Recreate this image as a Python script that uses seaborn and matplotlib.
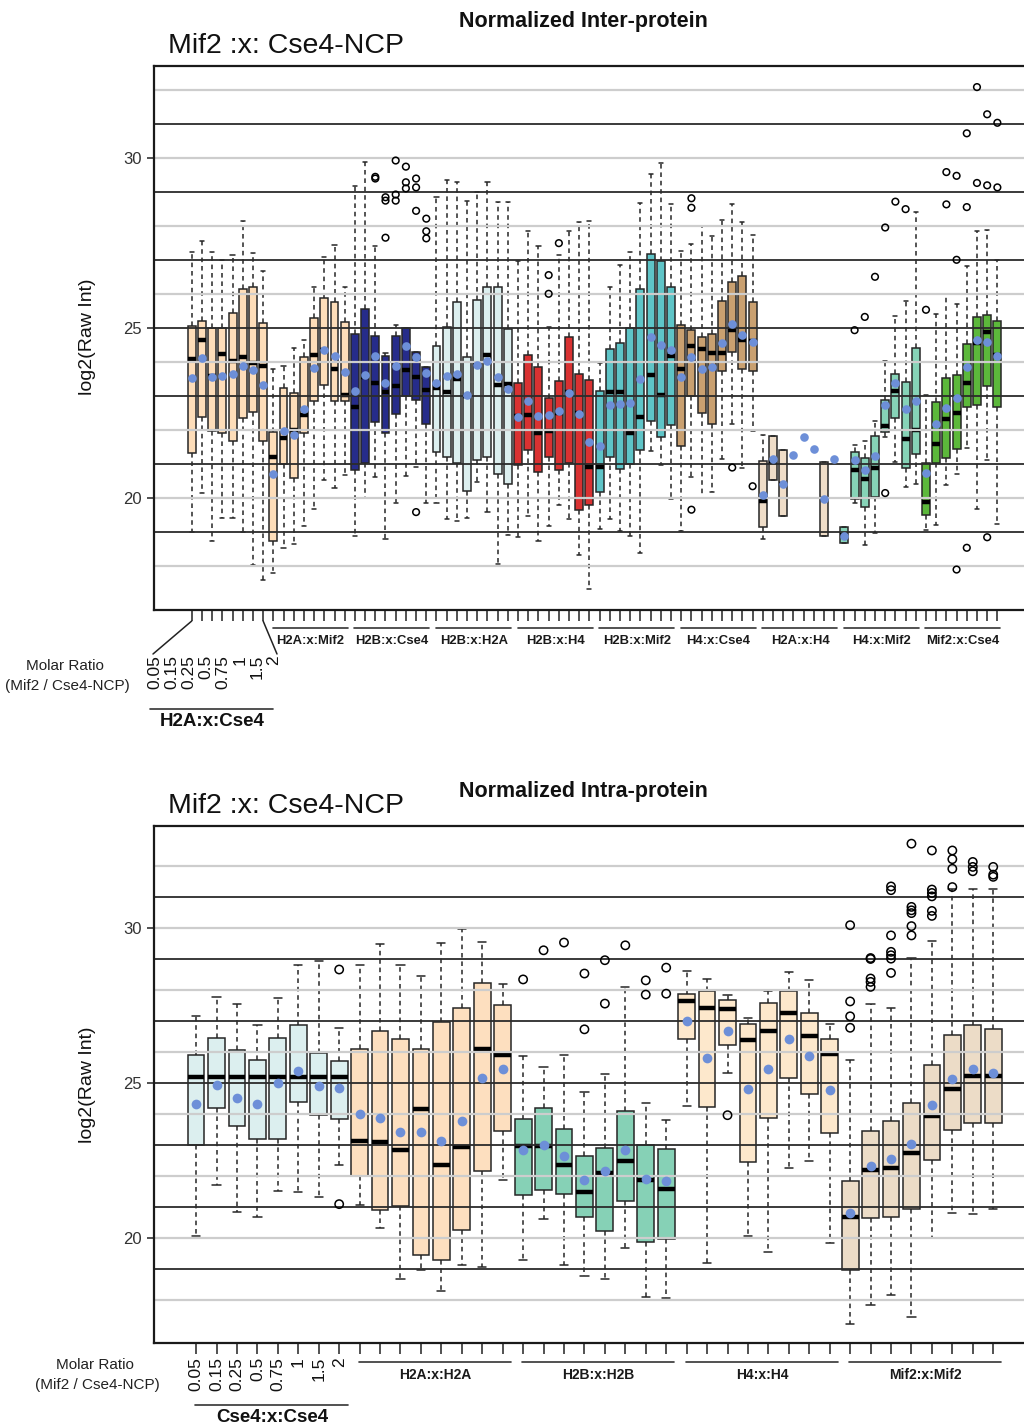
import numpy as np
import pandas as pd
import matplotlib
matplotlib.use("Agg")
import matplotlib.pyplot as plt
from matplotlib import font_manager
from matplotlib.lines import Line2D
from matplotlib.transforms import blended_transform_factory
import seaborn as sns

# ---------------------------------------------------------------- data
ratios = ["0.05", "0.15", "0.25", "0.5", "0.75", "1", "1.5", "2"]

inter_groups = ["H2A:x:Cse4", "H2A:x:Mif2", "H2B:x:Cse4", "H2B:x:H2A", "H2B:x:H4",
                "H2B:x:Mif2", "H4:x:Cse4", "H2A:x:H4", "H4:x:Mif2", "Mif2:x:Cse4"]
NA = np.nan
inter_whislo = [19.0, 20.14, 18.74, 19.4, 19.4, 19.0, 18.03, 17.58,
                17.79, 18.53, 18.63, 19.16, 19.68, 20.53, 20.29, 20.68,
                18.87, 20.0, 20.6, 18.79, 19.84, 20.63, 20.92, 19.86,
                19.84, 19.39, 19.32, 19.42, 20.47, 19.58, 18.05, 18.9,
                18.84, 19.47, 18.74, 19.16, 19.79, 19.37, 18.32, 17.32,
                19.07, 19.37, 19.02, 18.87, 18.37, 21.37, 20.95, 19.97,
                19.02, 20.6, 20.0, 20.16, 21.13, 22.18, 20.89, 21.95,
                18.79, 20.51, 19.47, NA, NA, NA, 18.89, NA,
                18.68, 19.84, 18.6, 18.95, 21.79, 21.05, 20.32, 20.4,
                19.05, 19.21, 20.37, 20.71, 21.47, 19.66, 21.1, 19.24]
inter_q1 = [21.32, 22.37, 21.95, 21.92, 21.67, 22.34, 22.53, 21.67,
            18.74, 21.0, 20.58, 21.9, 22.84, 23.32, 22.84, 22.84,
            20.81, 21.02, 22.24, 21.9, 22.47, 23.0, 22.89, 22.16,
            21.34, 21.21, 21.02, 20.21, 21.11, 21.21, 20.71, 20.42,
            20.95, 21.42, 20.77, 21.19, 20.82, 21.02, 19.65, 19.79,
            20.16, 21.21, 20.86, 21.0, 21.4, 22.26, 21.79, 22.13,
            21.53, 23.0, 22.49, 22.16, 23.74, 24.29, 23.79, 23.72,
            19.13, 20.51, 19.47, NA, NA, NA, 18.89, NA,
            18.68, 19.97, 19.74, 20.03, 21.93, 22.35, 20.89, 21.29,
            19.49, 21.03, 21.16, 21.44, 22.68, 22.72, 23.28, 22.68]
inter_median = [24.07, 24.63, 23.58, 24.24, 24.02, 24.14, 23.95, 23.89,
                21.19, 21.77, 22.0, 22.44, 24.21, 24.35, 23.79, 23.02,
                22.68, 23.55, 23.37, 23.11, 23.29, 23.77, 23.55, 23.16,
                23.23, 23.11, 23.49, 23.0, 23.9, 24.21, 23.32, 23.34,
                22.4, 22.44, 21.9, 21.95, 22.5, 23.1, 22.5, 20.92,
                20.92, 23.11, 23.11, 21.92, 22.37, 23.6, 23.02, 24.16,
                23.79, 24.47, 24.37, 24.26, 24.26, 24.93, 24.63, 24.6,
                19.92, 21.05, 20.4, NA, NA, NA, 19.95, NA,
                18.9, 20.82, 20.56, 20.89, 22.11, 23.13, 21.72, 21.98,
                19.89, 21.58, 22.32, 22.49, 23.37, 24.55, 24.89, 24.2]
inter_q3 = [25.05, 25.21, 25.0, 24.98, 25.44, 26.13, 26.21, 25.14,
            21.94, 23.23, 23.07, 24.14, 25.29, 25.89, 25.76, 25.18,
            24.81, 25.56, 24.76, 24.16, 24.76, 24.98, 24.28, 23.84,
            24.45, 25.02, 25.76, 24.14, 25.81, 26.21, 26.19, 24.95,
            23.39, 24.21, 23.84, 22.93, 23.44, 24.74, 23.65, 23.46,
            23.13, 24.39, 24.56, 25.0, 26.13, 27.16, 26.95, 26.21,
            25.07, 24.93, 24.74, 24.82, 25.79, 26.35, 26.53, 25.77,
            21.07, 21.81, 21.4, NA, NA, NA, 21.05, NA,
            19.14, 21.35, 21.18, 21.82, 22.89, 23.63, 23.42, 24.42,
            21.03, 22.82, 23.53, 23.6, 24.51, 25.32, 25.37, 25.21]
inter_whishi = [27.24, 27.56, 27.24, 26.98, 27.14, 28.14, 27.21, 26.68,
                23.78, 23.89, 24.42, 24.63, 26.21, 27.08, 27.45, 26.21,
                29.16, 29.87, 27.42, 24.26, 25.08, 24.98, 24.28, 23.84,
                28.84, 29.34, 29.28, 28.74, 29.0, 29.29, 28.71, 28.71,
                26.95, 27.86, 27.42, 25.03, 27.14, 27.84, 28.11, 28.14,
                23.97, 26.19, 26.86, 27.24, 28.66, 29.51, 29.84, 28.63,
                27.26, 27.47, 28.0, 27.71, 28.16, 28.63, 28.11, 27.74,
                21.84, 21.81, 21.4, NA, NA, NA, 21.05, NA,
                19.14, 21.56, 21.66, 22.26, 24.02, 25.34, 25.79, 28.42,
                23.02, 25.4, 25.98, 25.71, 26.82, 27.84, 27.87, 27.0]
inter_mean = [23.53, 24.10, 23.56, 23.58, 23.65, 23.87, 23.76, 23.32,
              20.71, 21.95, 21.84, 22.61, 23.82, 24.34, 24.18, 23.71,
              23.13, 23.61, 24.18, 23.37, 23.87, 24.47, 24.13, 23.66,
              23.37, 23.58, 23.65, 23.03, 23.92, 24.02, 23.55, 23.21,
              22.37, 22.84, 22.42, 22.44, 22.55, 23.08, 22.47, 21.63,
              21.51, 22.74, 22.76, 22.79, 23.49, 24.74, 24.49, 24.34,
              23.56, 24.13, 23.79, 23.86, 24.55, 25.11, 24.79, 24.58,
              20.07, 21.13, 20.40, 21.26, 21.79, 21.44, 19.95, 21.14,
              18.89, 21.11, 20.81, 21.24, 22.72, 23.39, 22.61, 22.86,
              20.72, 22.18, 22.65, 22.93, 23.86, 24.63, 24.58, 24.18]
inter_outlier_box = [18, 18, 19, 19, 19, 20, 20, 20, 21, 21, 21, 22, 22, 22, 22,
                     23, 23, 23, 35, 35, 36, 49, 49, 49, 53, 55, 65, 66, 67, 68, 68,
                     69, 70, 72, 74, 74, 75, 75, 75, 76, 76, 76, 77, 77, 78, 78, 78,
                     79, 79]
inter_outlier_val = [29.39, 29.44, 28.84, 28.74, 27.65, 29.92, 28.92, 28.74, 29.74,
                     29.28, 29.1, 29.39, 29.13, 28.44, 19.58, 28.21, 27.84, 27.63,
                     26.55, 26.0, 27.49, 28.81, 28.53, 19.65, 20.89, 20.34, 24.93,
                     25.32, 26.5, 27.95, 20.14, 28.71, 28.49, 25.53, 29.58, 28.63,
                     29.47, 27.0, 17.89, 30.72, 28.55, 18.53, 32.08, 29.26, 31.28,
                     29.19, 18.84, 31.03, 29.13]

intra_groups = ["Cse4:x:Cse4", "H2A:x:H2A", "H2B:x:H2B", "H4:x:H4", "Mif2:x:Mif2"]
intra_whislo = [20.06, 21.7, 20.84, 20.66, 21.52, 21.48, 21.32, 22.34,
                21.05, 20.33, 18.69, 18.98, 18.29, 19.14, 19.06, 21.86,
                19.3, 20.6, 19.12, 18.76, 18.67, 19.69, 18.1, 18.06,
                24.25, 19.2, 25.33, 20.05, 19.53, 22.24, 22.47, 19.85,
                17.22, 17.83, 18.15, 17.45, 20.01, 20.82, 20.78, 20.92]
intra_q1 = [23.01, 24.2, 23.6, 23.2, 23.18, 24.39, 23.96, 23.85,
            21.99, 20.89, 21.02, 19.44, 19.28, 20.25, 22.16, 23.45,
            21.4, 21.56, 21.41, 20.68, 20.22, 21.18, 19.87, 19.98,
            26.43, 24.23, 26.22, 22.45, 23.88, 25.17, 24.65, 23.4,
            18.96, 20.65, 20.68, 20.92, 22.53, 23.47, 23.72, 23.72]
intra_median = [25.19, 25.19, 25.19, 25.19, 25.19, 25.19, 25.19, 25.19,
                23.12, 23.08, 22.83, 24.17, 22.34, 22.94, 26.09, 25.91,
                22.97, 22.97, 22.34, 21.48, 22.1, 22.48, 21.86, 21.59,
                27.63, 27.42, 27.38, 26.38, 26.68, 27.27, 26.52, 25.92,
                20.66, 22.2, 22.27, 22.75, 23.92, 24.82, 25.23, 25.23]
intra_q3 = [25.89, 26.45, 26.05, 25.73, 26.45, 26.86, 25.97, 25.7,
            26.11, 26.67, 26.43, 26.11, 26.97, 27.43, 28.23, 27.53,
            23.85, 24.2, 23.53, 22.63, 22.9, 24.09, 23.01, 22.88,
            27.88, 27.96, 27.67, 26.89, 27.59, 27.97, 27.27, 26.43,
            21.84, 23.45, 23.77, 24.35, 25.57, 26.56, 26.86, 26.73]
intra_whishi = [27.16, 27.77, 27.54, 26.86, 27.75, 28.82, 28.94, 26.77,
                28.8, 29.47, 28.8, 28.45, 29.53, 29.98, 29.55, 28.2,
                25.87, 25.52, 25.89, 24.71, 25.3, 28.08, 24.35, 23.8,
                28.6, 28.34, 27.83, 27.1, 27.97, 28.58, 28.33, 26.89,
                25.75, 27.56, 27.42, 29.04, 29.58, 31.27, 31.27, 31.25]
intra_mean = [24.33, 24.92, 24.53, 24.33, 25.01, 25.39, 24.90, 24.84,
              24.01, 23.88, 23.42, 23.42, 23.12, 23.76, 25.17, 25.46,
              22.83, 23.01, 22.63, 21.88, 22.16, 22.83, 21.91, 21.83,
              26.99, 25.81, 26.67, 24.80, 25.44, 26.43, 25.86, 24.76,
              20.82, 22.32, 22.56, 23.04, 24.28, 25.14, 25.46, 25.33]
intra_outlier_box = [7, 7, 16, 17, 18, 19, 19, 20, 20, 21, 22, 22, 23, 23, 26,
                     32, 32, 32, 32, 33, 33, 33, 33, 33,
                     34, 34, 34, 34, 34, 34, 34,
                     35, 35, 35, 35, 35, 35, 36, 36, 36, 36, 36, 36,
                     37, 37, 37, 37, 38, 38, 38, 39, 39, 39]
intra_outlier_val = [28.66, 21.09, 28.34, 29.28, 29.53, 28.53, 26.73, 28.96, 27.56,
                     29.44, 28.31, 27.85, 28.72, 27.88, 23.96,
                     30.09, 27.63, 27.15, 26.78, 29.03, 29.0, 28.37, 28.26, 28.1,
                     31.34, 31.22, 29.76, 29.23, 29.12, 29.01, 28.55,
                     32.72, 30.68, 30.57, 30.48, 30.06, 29.76,
                     32.5, 31.24, 31.13, 31.02, 30.55, 30.39,
                     32.5, 32.22, 31.91, 31.32, 32.13, 31.97, 31.83,
                     31.97, 31.72, 31.65]

# ---------------------------------------------------------------- style
inter_colors = ["#FDDDB9", "#FDDDB9", "#262C8A", "#DCEFEF", "#D93232",
                "#5EC4C7", "#C9A070", "#EFDDC8", "#86D3B7", "#5CB83B"]
intra_colors = ["#DCEFEF", "#FDDFBF", "#86D1B6", "#FDE8CC", "#ECDCC7"]
MEAN_COLOR = "#6D8FD8"

sns.set_style("ticks")
installed = {f.name for f in font_manager.fontManager.ttflist}
NARROW = "Liberation Sans Narrow" if "Liberation Sans Narrow" in installed else "Liberation Sans"
plt.rcParams["font.family"] = ["Liberation Sans", "DejaVu Sans"]

W, H = 1024, 1425
fig = plt.figure(figsize=(W / 100, H / 100), dpi=100)


def fx(x):
    return x / W


def fy(y):
    return 1 - y / H


def draw_panel(top, bottom, groups, colors, lo, q1, med, q3, hi, mean,
               out_box, out_val, xlim, ylim, box_width, dot_size, ring_size, tick_len):
    ax = fig.add_axes([fx(154), fy(bottom), fx(1030) - fx(154), (bottom - top) / H])
    order = [f"{g}|{r}" for g in groups for r in ratios]

    rows = []
    for i, stats in enumerate(zip(lo, q1, med, q3, hi)):
        for v in stats:
            if not np.isnan(v):
                rows.append((order[i], groups[i // 8], v))
    boxes = pd.DataFrame(rows, columns=["sample", "group", "log2"])
    means = pd.DataFrame({"sample": order, "log2": mean})
    fliers = pd.DataFrame({"sample": [order[b] for b in out_box], "log2": out_val})

    sns.boxplot(data=boxes, x="sample", y="log2", hue="group", order=order,
                hue_order=groups, palette=dict(zip(groups, colors)), dodge=False,
                saturation=1, width=box_width, whis=(0, 100), showfliers=False,
                linecolor="#262626", linewidth=1.1, legend=False, ax=ax,
                medianprops=dict(color="black", linewidth=3.2, solid_capstyle="butt"),
                whiskerprops=dict(linestyle=(0, (3, 2.5)), linewidth=1.1),
                capprops=dict(linewidth=1.1), capwidths=0.4)
    sns.stripplot(data=fliers, x="sample", y="log2", order=order, jitter=False,
                  color="black", facecolor="none", edgecolor="black", linewidth=1.1,
                  size=ring_size, zorder=4, ax=ax)
    sns.stripplot(data=means, x="sample", y="log2", order=order, jitter=False,
                  color=MEAN_COLOR, linewidth=0, size=dot_size, zorder=5, ax=ax)

    for v in range(18, 34, 2):
        ax.axhline(v, color="#cdcdcd", linewidth=1.6, zorder=2.3)
    for v in range(19, 33, 2):
        ax.axhline(v, color="#2b2b2b", linewidth=1.3, zorder=2.35)

    ax.set_xlim(*xlim)
    ax.set_ylim(*ylim)
    ax.set_xticks(range(len(order)))
    ax.set_xticklabels([""] * len(order))
    ax.set_yticks([20, 25, 30])
    ax.set_yticklabels(["20", "25", "30"], fontsize=12, family=NARROW, color="#333333")
    ax.tick_params(axis="x", length=tick_len, width=1.1, direction="out", color="#222222")
    ax.tick_params(axis="y", length=5, width=1.1, direction="out", color="#222222")
    ax.set_xlabel("")
    ax.set_ylabel("")
    for side in ("left", "top", "bottom"):
        ax.spines[side].set_linewidth(1.6)
        ax.spines[side].set_color("#1a1a1a")
    ax.spines["right"].set_visible(False)
    return ax


def group_labels(ax, groups, line_y, text_y, extend, fontsize):
    trans = blended_transform_factory(ax.transData, fig.transFigure)
    for gi in range(1, len(groups)):
        first, last = gi * 8, gi * 8 + 7
        ax.add_line(Line2D([first - 0.05, last + extend], [fy(line_y)] * 2,
                           transform=trans, color="#333333", linewidth=1.2,
                           clip_on=False))
        ax.text((first + last) / 2 + extend / 2, fy(text_y), groups[gi], transform=trans,
                ha="center", va="center", fontsize=fontsize, fontweight="bold",
                family=NARROW, color="#1a1a1a", clip_on=False)


def panel_titles(title, title_y, sub_y, ylab_y):
    fig.text(fx(583), fy(title_y), title, ha="center", va="center", fontsize=15.5,
             fontweight="bold", family=NARROW, color="#111111")
    fig.text(fx(168), fy(sub_y), "Mif2 :x: Cse4-NCP", ha="left", va="center",
             fontsize=20.5, family=NARROW, color="#111111")
    fig.text(fx(88), fy(ylab_y), "log2(Raw Int)", ha="center", va="center",
             rotation=90, fontsize=14, color="#111111")


def first_group(label_xs, num_top, line_y, line_x0, line_x1, name, name_x, name_y,
                molar_x, molar_y):
    for x, r in zip(label_xs, ratios):
        fig.text(fx(x), fy(num_top), r, rotation=90, ha="center", va="top",
                 fontsize=12.5, color="#111111")
    fig.add_artist(Line2D([fx(line_x0), fx(line_x1)], [fy(line_y)] * 2,
                          color="#333333", linewidth=1.2))
    fig.text(fx(name_x), fy(name_y), name, ha="center", va="center", fontsize=13.5,
             fontweight="bold", family=NARROW, color="#111111")
    fig.text(fx(molar_x), fy(molar_y), "Molar Ratio", ha="center", va="center",
             fontsize=11, family=NARROW, color="#222222")
    fig.text(fx(molar_x + 2), fy(molar_y + 20), "(Mif2 / Cse4-NCP)", ha="center",
             va="center", fontsize=11, family=NARROW, color="#222222")


# ---------------------------------------------------------------- inter-protein panel
ax1 = draw_panel(66, 610, inter_groups, inter_colors, inter_whislo, inter_q1,
                 inter_median, inter_q3, inter_whishi, inter_mean,
                 inter_outlier_box, inter_outlier_val, (-3.7, 82.2), (16.7, 32.7),
                 0.78, 6.2, 4.8, 8)
panel_titles("Normalized Inter-protein", 22, 46, 337)
group_labels(ax1, inter_groups, 628, 641, 0.3, 9.4)

fig.canvas.draw()
x_first = ax1.transData.transform((0, 0))[0]
x_last = ax1.transData.transform((7, 0))[0]
fig.add_artist(Line2D([fx(x_first), fx(153)], [fy(621), fy(654)], color="#222222", linewidth=1.1))
fig.add_artist(Line2D([fx(x_last), fx(277)], [fy(621), fy(654)], color="#222222", linewidth=1.1))
first_group(np.linspace(155, 274, 8), 655, 709, 150, 273, inter_groups[0], 212, 721, 65, 666)

# ---------------------------------------------------------------- intra-protein panel
ax2 = draw_panel(826, 1343, intra_groups, intra_colors, intra_whislo, intra_q1,
                 intra_median, intra_q3, intra_whishi, intra_mean,
                 intra_outlier_box, intra_outlier_val, (-2.06, 40.8), (16.61, 33.29),
                 0.82, 7.0, 6.0, 8)
panel_titles("Normalized Intra-protein", 791, 806, 1085)
group_labels(ax2, intra_groups, 1362, 1375, 0.4, 10)

fig.canvas.draw()
tick_px = [ax2.transData.transform((j, 0))[0] for j in range(8)]
first_group(tick_px, 1357, 1405, 195, 348, intra_groups[0], 272, 1417, 95, 1365)

fig.savefig("out.png", dpi=100)
